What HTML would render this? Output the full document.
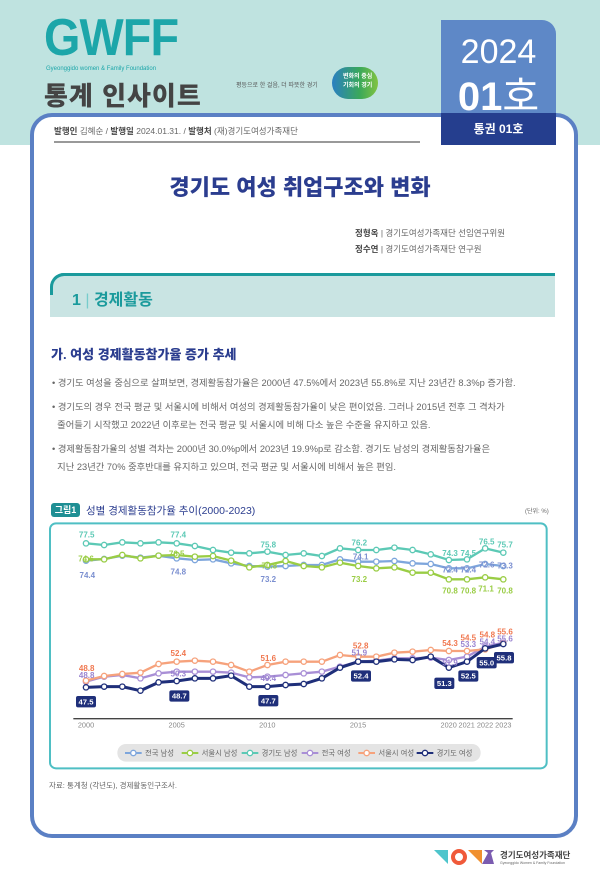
<!DOCTYPE html>
<html><head><meta charset="utf-8">
<style>
*{margin:0;padding:0;box-sizing:border-box}
body{width:600px;height:873px;background:#fff;position:relative;overflow:hidden;font-family:"Liberation Sans","Noto Sans CJK KR",sans-serif;color:#555}
.abs{position:absolute;white-space:nowrap}
</style></head><body>
<div class="abs" style="left:0;top:0;width:600px;height:145px;background:#bfe3e0"></div>
<div class="abs" style="left:44px;top:8px;font-size:52px;font-weight:bold;color:#1ca6a9;letter-spacing:-1px;transform:scaleX(0.9);transform-origin:left;font-family:'Liberation Sans',sans-serif">GWFF</div>
<div class="abs" style="left:46px;top:66px;font-size:6px;color:#1ca6a9">Gyeonggido women &amp; Family Foundation</div>
<div class="abs" style="left:44px;top:76px;font-size:26px;font-weight:900;color:#444;letter-spacing:1px">통계 인사이트</div>
<div class="abs" style="left:236px;top:80px;font-size:6px;color:#555">평등으로 한 걸음, 더 따뜻한 경기</div>
<div class="abs" style="left:332px;top:67px;width:46px;height:32px;border-radius:16px;background:linear-gradient(90deg,#2a7fc2,#3aa85a 60%,#82c341)"></div>
<div class="abs" style="left:343px;top:73px;font-size:6px;color:#fff;line-height:9px;font-weight:bold">변화의 중심<br>기회의 경기</div>
<!-- card -->
<div class="abs" style="left:30px;top:113px;width:548px;height:725px;border:4px solid #5b80c4;border-radius:22px;background:#fff"></div>
<!-- tab -->
<div class="abs" style="left:441px;top:20px;width:115px;height:94px;background:#5e88c7;border-radius:0 14px 0 0"></div>
<div class="abs" style="left:441px;top:113px;width:115px;height:32px;background:#253e8e"></div>
<div class="abs" style="left:441px;top:33px;width:115px;text-align:center;font-size:34px;color:#fff;font-weight:300">2024</div>
<div class="abs" style="left:441px;top:64px;width:115px;text-align:center;font-size:40px;color:#fff;font-weight:bold">01<span style="font-weight:normal">호</span></div>
<div class="abs" style="left:441px;top:120px;width:115px;text-align:center;font-size:12px;color:#fff;font-weight:bold">통권 01호</div>
<div class="abs" style="left:54px;top:125px;font-size:8.5px;color:#666"><b style="color:#444">발행인</b> 김혜순 / <b style="color:#444">발행일</b> 2024.01.31. / <b style="color:#444">발행처</b> (재)경기도여성가족재단</div>
<div class="abs" style="left:54px;top:141px;width:366px;height:2px;background:#999"></div>
<div class="abs" style="left:0;top:170px;width:600px;text-align:center;font-size:22px;font-weight:900;color:#2b3d8f">경기도 여성 취업구조와 변화</div>
<div class="abs" style="left:355px;top:227px;font-size:8.5px;color:#666"><b style="color:#444">정형옥</b> | 경기도여성가족재단 선임연구위원</div>
<div class="abs" style="left:355px;top:243px;font-size:8.5px;color:#666"><b style="color:#444">정수연</b> | 경기도여성가족재단 연구원</div>
<div class="abs" style="left:50px;top:273px;width:505px;height:44px;background:#c9e4e3;border-top:3px solid #1a9a9c;border-left:3px solid #1a9a9c;border-radius:14px 0 0 0;border-left-color:transparent"></div>
<div class="abs" style="left:50px;top:273px;width:20px;height:22px;border-top:3px solid #1a9a9c;border-left:3px solid #1a9a9c;border-radius:14px 0 0 0"></div>
<div class="abs" style="left:72px;top:286px;font-size:16px;font-weight:bold;color:#1a9a9c">1 <span style="font-weight:normal;color:#7cc">|</span> 경제활동</div>
<div class="abs" style="left:51px;top:344px;font-size:13px;font-weight:900;color:#2b3d8f">가. 여성 경제활동참가율 증가 추세</div>
<div class="abs" style="left:52px;top:374px;font-size:9.3px;color:#666;line-height:18px;width:510px;white-space:normal">
<div>• 경기도 여성을 중심으로 살펴보면, 경제활동참가율은 2000년 47.5%에서 2023년 55.8%로 지난 23년간 8.3%p 증가함.</div>
<div style="margin-top:6px">• 경기도의 경우 전국 평균 및 서울시에 비해서 여성의 경제활동참가율이 낮은 편이었음. 그러나 2015년 전후 그 격차가<br>&nbsp;&nbsp;줄어들기 시작했고 2022년 이후로는 전국 평균 및 서울시에 비해 다소 높은 수준을 유지하고 있음.</div>
<div style="margin-top:6px">• 경제활동참가율의 성별 격차는 2000년 30.0%p에서 2023년 19.9%p로 감소함. 경기도 남성의 경제활동참가율은<br>&nbsp;&nbsp;지난 23년간 70% 중후반대를 유지하고 있으며, 전국 평균 및 서울시에 비해서 높은 편임.</div>
</div>
<div class="abs" style="left:51px;top:503px;width:29px;height:14px;background:#1f8f94;border-radius:3px;color:#fff;font-size:9px;font-weight:bold;text-align:center;line-height:14px">그림1</div>
<div class="abs" style="left:86px;top:503px;font-size:10.5px;color:#2b3d8f">성별 경제활동참가율 추이(2000-2023)</div>
<div class="abs" style="left:525px;top:506px;font-size:6px;color:#666">(단위: %)</div>
<svg class="abs" style="left:40px;top:490px" width="530" height="280" viewBox="0 0 1590 840" font-family="Liberation Sans, sans-serif">
<rect x="30" y="100" width="1490" height="735" rx="18" fill="#fff" stroke="#4fbfc4" stroke-width="6"/>
<line x1="100" y1="686" x2="1418" y2="686" stroke="#444" stroke-width="4"/>
<g font-size="22" fill="#888" text-anchor="middle">
<text x="138" y="712">2000</text><text x="410" y="712">2005</text><text x="682" y="712">2010</text><text x="954" y="712">2015</text><text x="1226" y="712">2020</text><text x="1280" y="712">2021</text><text x="1335" y="712">2022</text><text x="1390" y="712">2023</text></g>
<g id="s"></g>
<rect x="232" y="762" width="1090" height="53" rx="26" fill="#e4e4e4"/>
<g font-size="22" fill="#666">
<line x1="255" y1="789" x2="305" y2="789" stroke="#7ea6dc" stroke-width="6"/><circle cx="280" cy="789" r="8" fill="#fff" stroke="#7ea6dc" stroke-width="4"/><text x="315" y="797">전국 남성</text>
<line x1="425" y1="789" x2="475" y2="789" stroke="#9acd45" stroke-width="6"/><circle cx="450" cy="789" r="8" fill="#fff" stroke="#9acd45" stroke-width="4"/><text x="485" y="797">서울시 남성</text>
<line x1="605" y1="789" x2="655" y2="789" stroke="#5cc9b5" stroke-width="6"/><circle cx="630" cy="789" r="8" fill="#fff" stroke="#5cc9b5" stroke-width="4"/><text x="665" y="797">경기도 남성</text>
<line x1="785" y1="789" x2="835" y2="789" stroke="#a98fd6" stroke-width="6"/><circle cx="810" cy="789" r="8" fill="#fff" stroke="#a98fd6" stroke-width="4"/><text x="845" y="797">전국 여성</text>
<line x1="955" y1="789" x2="1005" y2="789" stroke="#f6a27c" stroke-width="6"/><circle cx="980" cy="789" r="8" fill="#fff" stroke="#f6a27c" stroke-width="4"/><text x="1015" y="797">서울시 여성</text>
<line x1="1130" y1="789" x2="1180" y2="789" stroke="#1f2f7a" stroke-width="6"/><circle cx="1155" cy="789" r="8" fill="#fff" stroke="#1f2f7a" stroke-width="4"/><text x="1190" y="797">경기도 여성</text>
</g>
</svg>
<div class="abs" style="left:49px;top:780px;font-size:7.5px;color:#666">자료: 통계청 (각년도), 경제활동인구조사.</div>
<svg class="abs" style="left:434px;top:848px" width="60" height="20">
<polygon points="0,2 14,2 14,16" fill="#4ec5cc"/><circle cx="25" cy="9" r="6" fill="none" stroke="#f05a3a" stroke-width="4"/><polygon points="34,2 48,2 48,16" fill="#f09030"/><polygon points="50,2 60,2 57,5 60,16 48,16 54,5" fill="#7b5cb0"/>
</svg>
<div class="abs" style="left:500px;top:849px;font-size:8.5px;color:#444;font-weight:bold">경기도여성가족재단</div>
<div class="abs" style="left:500px;top:861px;font-size:3.5px;color:#666">Gyeonggido Women &amp; Family Foundation</div>
<script>
var X=i=>138+i*54.43;
var S=[
["#7ea6dc",[212,207,197,203,197,205,210,208,220,228,230,228,225,225,208,215,215,213,220,222,235,235,222,228]],
["#9acd45",[208,208,195,205,197,195,200,198,212,232,225,213,228,232,218,228,235,232,248,248,268,268,262,268]],
["#5cc9b5",[160,165,157,160,157,160,168,180,188,190,185,195,190,198,175,180,180,173,180,193,210,208,175,188]],
["#a98fd6",[575,560,555,565,550,545,545,545,548,562,560,555,550,545,530,515,512,505,505,503,510,500,470,458]],
["#f6a27c",[572,558,552,548,522,515,512,515,525,545,525,515,515,515,495,500,500,488,485,480,483,483,478,460]],
["#1f2f7a",[592,590,590,602,577,573,565,565,557,590,590,585,582,565,533,515,515,508,510,500,533,515,475,462]]];
var h='';
S.forEach(s=>{var p=s[1].map((y,i)=>X(i).toFixed(1)+','+y).join(' ');
h+='<polyline points="'+p+'" fill="none" stroke="'+s[0]+'" stroke-width="'+(s[0]=='#1f2f7a'?9:7)+'"/>';
s[1].forEach((y,i)=>h+='<circle cx="'+X(i).toFixed(1)+'" cy="'+y+'" r="8" fill="#fff" stroke="'+s[0]+'" stroke-width="4"/>');});
var L=[["#5cc9b5",[[140,135,"77.5"],[415,135,"77.4"],[685,165,"75.8"],[958,158,"76.2"],[1230,190,"74.3"],[1285,190,"74.5"],[1340,155,"76.5"],[1395,165,"75.7"]]],
["#9acd45",[[138,207,"74.6"],[410,192,"76.5"],[688,228,"70.8"],[958,268,"73.2"],[1230,303,"70.8"],[1285,303,"70.8"],[1338,296,"71.1"],[1395,303,"70.8"]]],
["#7b8fd0",[[142,256,"74.4"],[415,245,"74.8"],[685,268,"73.2"],[962,200,"74.1"],[1230,240,"72.4"],[1285,240,"72.4"],[1340,225,"72.6"],[1395,228,"73.3"]]],
["#f07850",[[140,535,"48.8"],[415,490,"52.4"],[685,505,"51.6"],[962,468,"52.8"],[1230,460,"54.3"],[1285,443,"54.5"],[1342,435,"54.8"],[1395,425,"55.6"]]],
["#9a84d0",[[140,556,"48.8"],[415,552,"50.3"],[685,565,"49.4"],[958,488,"51.9"],[1230,518,"51.9"],[1285,463,"53.3"],[1342,455,"54.4"],[1395,447,"55.6"]]]];
L.forEach(g=>g[1].forEach(t=>h+='<text x="'+t[0]+'" y="'+(t[1]+8)+'" font-size="24" font-weight="bold" fill="'+g[0]+'" text-anchor="middle">'+t[2]+'</text>'));
[[138,635,"47.5"],[418,618,"48.7"],[685,632,"47.7"],[963,558,"52.4"],[1213,580,"51.3"],[1285,558,"52.5"],[1340,518,"55.0"],[1392,503,"55.8"]].forEach(t=>{
h+='<rect x="'+(t[0]-30)+'" y="'+(t[1]-17)+'" width="60" height="34" rx="6" fill="#1f2f7a"/><text x="'+t[0]+'" y="'+(t[1]+8)+'" font-size="23" font-weight="bold" fill="#fff" text-anchor="middle">'+t[2]+'</text>';});
document.getElementById('s').innerHTML=h;
</script>
</body></html>
